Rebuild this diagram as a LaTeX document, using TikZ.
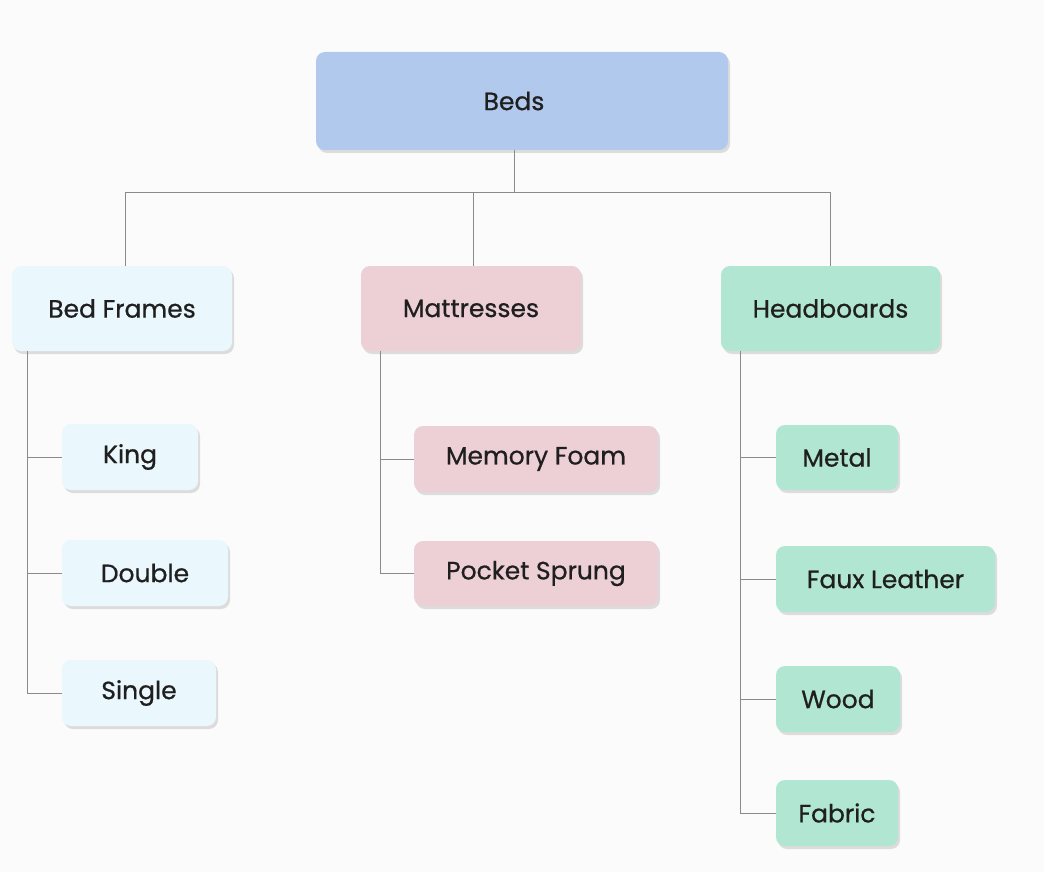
\documentclass[tikz,border=0pt]{standalone}
\usepackage{fontspec}
\setmainfont{Poppins}[FakeBold=0.7]
\usetikzlibrary{shadows}
\definecolor{cbeds}{HTML}{B0C9EC}
\definecolor{cbf}{HTML}{EAF7FC}
\definecolor{cmat}{HTML}{EDCFD6}
\definecolor{chead}{HTML}{B1E6D2}
\definecolor{cline}{HTML}{8A8A8A}
\begin{document}
\begin{tikzpicture}[x=1pt,y=-1pt,
  box/.style={rounded corners=9pt,draw=none,inner sep=0pt,
    drop shadow={shadow xshift=2pt,shadow yshift=-3pt,fill=black,opacity=0.12}},
  conn/.style={draw=cline,line width=1pt}]
\fill[white!97!gray] (0,0) rectangle (1044,872);
\useasboundingbox (0,0) rectangle (1044,872);
\newcommand{\bx}[6]{\node[box,fill=#6,minimum width=#4-#2,minimum height=#5-#3] (#1) at ({(#2+#4)/2},{(#3+#5)/2}) {};}
\bx{beds}{316}{52}{728}{150}{cbeds}
\bx{bf}{12}{266}{232}{351}{cbf}
\bx{mat}{361}{266}{581}{351}{cmat}
\bx{hb}{721}{266}{940}{351}{chead}
\bx{king}{62}{424}{198}{490}{cbf}
\bx{dbl}{62}{540}{228}{606}{cbf}
\bx{sgl}{62}{660}{216}{726}{cbf}
\bx{mf}{414}{426}{658}{492}{cmat}
\bx{ps}{414}{541}{658}{606}{cmat}
\bx{metal}{776}{425}{898}{490}{chead}
\bx{faux}{776}{546}{995}{612}{chead}
\bx{wood}{776}{666}{900}{732}{chead}
\bx{fab}{776}{780}{898}{846}{chead}
\begin{scope}[every node/.style={font=\fontsize{25}{29}\selectfont,text=black!88}]
\node at ([xshift=-8pt]beds) {Beds};
\node at (bf) {Bed Frames};
\node at (mat) {Mattresses};
\node at (hb) {Headboards};
\node at (king) {King};
\node at (dbl) {Double};
\node at (sgl) {Single};
\node at (mf) {Memory Foam};
\node at (ps) {Pocket Sprung};
\node at (metal) {Metal};
\node at (faux) {Faux Leather};
\node at (wood) {Wood};
\node at (fab) {Fabric};
\end{scope}
\coordinate (j) at (514,192);
\draw[conn] ([xshift=-8pt]beds.south) -- (j);
\draw[conn] (j) -| ([xshift=3pt]bf.north);
\draw[conn] (j) -| ([xshift=2pt]mat.north);
\draw[conn] (j) -| ([xshift=-0.5pt]hb.north);
\draw[conn] ([xshift=16pt]bf.south west) |- (sgl.west);
\draw[conn] ([xshift=16pt]bf.south west) |- (king.west);
\draw[conn] ([xshift=16pt]bf.south west) |- (dbl.west);
\draw[conn] ([xshift=20pt]mat.south west) |- (ps.west);
\draw[conn] ([xshift=20pt]mat.south west) |- (mf.west);
\draw[conn] ([xshift=20pt]hb.south west) |- (fab.west);
\draw[conn] ([xshift=20pt]hb.south west) |- (metal.west);
\draw[conn] ([xshift=20pt]hb.south west) |- (faux.west);
\draw[conn] ([xshift=20pt]hb.south west) |- (wood.west);
\end{tikzpicture}
\end{document}
